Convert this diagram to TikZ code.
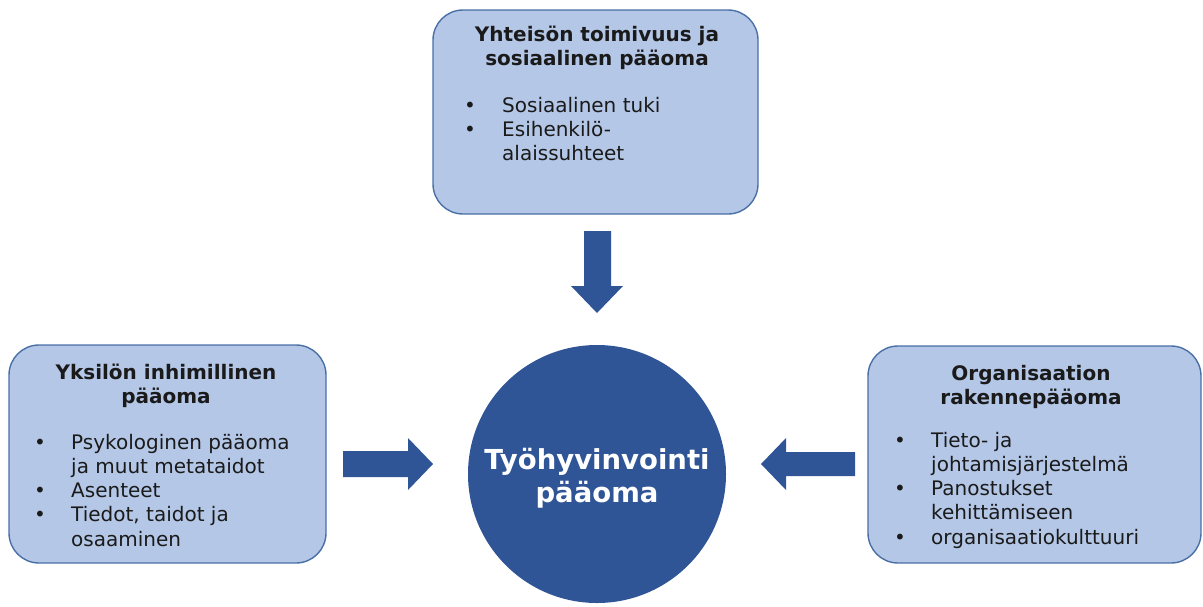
\documentclass[tikz,border=0pt]{standalone}
\usepackage{fontspec}
\setmainfont{DejaVu Sans}
\definecolor{boxfill}{HTML}{B4C7E7}
\definecolor{boxline}{HTML}{4A6FA5}
\definecolor{dark}{HTML}{2F5597}
\definecolor{txt}{HTML}{1A1A1A}
\newcommand{\bodyfont}{\fontsize{20}{24.3}\selectfont}
\newcommand{\titlefont}{\fontsize{20}{24}\selectfont\bfseries}
\tikzset{
  capbox/.style={draw=boxline, line width=1.4pt, fill=boxfill, rounded corners=30pt, inner sep=0pt},
  titletext/.style={align=center, inner sep=0pt, anchor=base, text=txt, font=\titlefont},
  listtext/.style={inner sep=0pt, anchor=base west, text=txt, font=\bodyfont},
  blockarrow/.style={fill=dark, draw=none},
}
\begin{document}
\begin{tikzpicture}[x=1pt,y=-1pt]
\useasboundingbox (0,0) rectangle (1203,606);
% boxes
\draw[capbox] (433,10) rectangle (758,214);
\draw[capbox] (9,345) rectangle (326,563);
\draw[capbox] (868,346) rectangle (1201,563);
% center circle
\node[circle, fill=dark, minimum size=258pt, inner sep=0pt] (c) at (597,474) {};
\node[align=center, inner sep=0pt, anchor=base, text=white, font=\fontsize{27.5}{33}\selectfont\bfseries] (ct) at (597,502) {Työhyvinvointi\\pääoma};
% top box text
\node[titletext] (t1) at (597,65) {Yhteisön toimivuus ja\\sosiaalinen pääoma};
\node[listtext] (l1) at (464,112) {\begin{tabular}[t]{@{}p{38pt}@{}l@{}}
• & Sosiaalinen tuki\\
• & Esihenkilö-\\
  & alaissuhteet
\end{tabular}};
% left box text
\node[titletext] (t2) at (166,403) {Yksilön inhimillinen\\pääoma};
\node[listtext] (l2) at (34,449) {\begin{tabular}[t]{@{}p{37pt}@{}l@{}}
• & Psykologinen pääoma\\
  & ja muut metataidot\\
• & Asenteet\\
• & Tiedot, taidot ja\\
  & osaaminen
\end{tabular}};
% right box text
\node[titletext] (t3) at (1031,404) {Organisaation\\rakennepääoma};
\node[listtext] (l3) at (894,447) {\begin{tabular}[t]{@{}p{37pt}@{}l@{}}
• & Tieto- ja\\
  & johtamisjärjestelmä\\
• & Panostukset\\
  & kehittämiseen\\
• & organisaatiokulttuuri
\end{tabular}};
% block arrows
\fill[blockarrow] (584,231) -- (611,231) -- (611,286) -- (623,286) -- (597,313) -- (571,286) -- (584,286) -- cycle;
\fill[blockarrow] (343,451) -- (408,451) -- (408,438) -- (433,464) -- (408,490) -- (408,477) -- (343,477) -- cycle;
\fill[blockarrow] (855,452) -- (786,452) -- (786,438) -- (761,464) -- (786,490) -- (786,476) -- (855,476) -- cycle;
\end{tikzpicture}
\end{document}
